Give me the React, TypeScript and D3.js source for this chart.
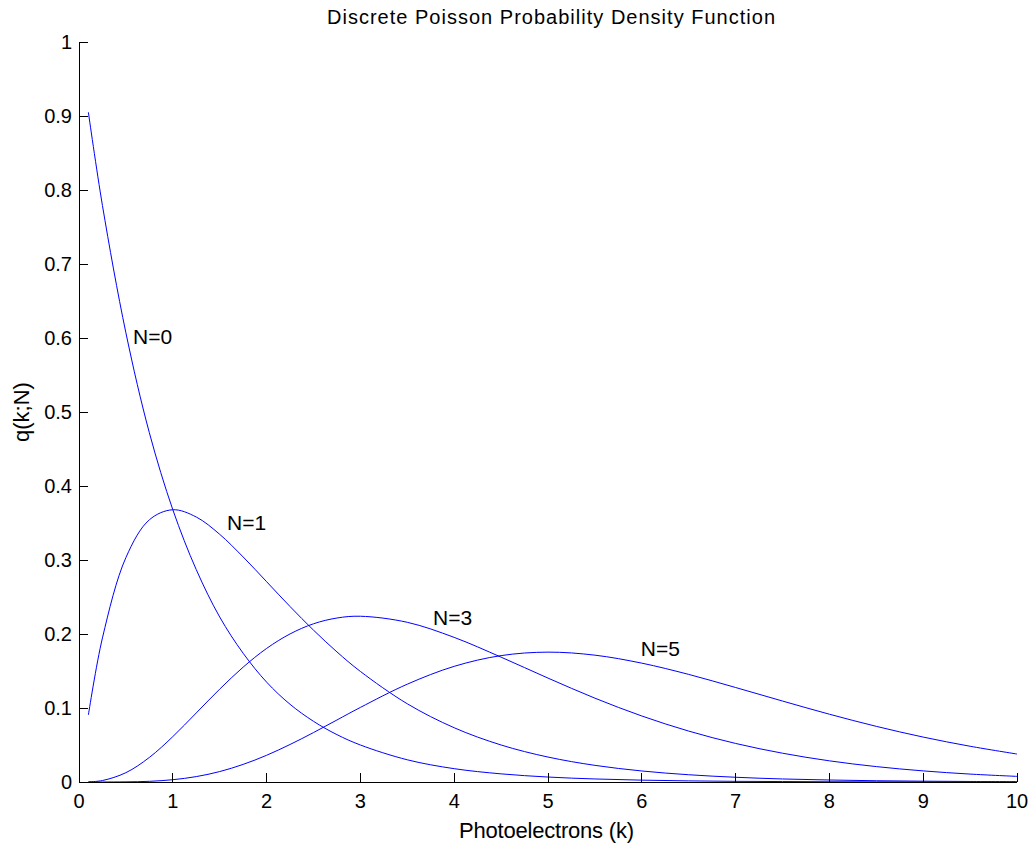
import React from "react";
import * as d3 from "d3";

const kValues = [0.1, 0.25, 0.5, 0.75, 1, 1.25, 1.5, 1.75, 2, 2.25, 2.5, 2.75, 3, 3.5, 4, 4.5, 5, 5.5, 6, 6.5, 7, 7.5, 8, 8.5, 9, 9.5, 10];
const seriesN0 = [0.905, 0.779, 0.607, 0.472, 0.368, 0.287, 0.223, 0.174, 0.135, 0.105, 0.082, 0.064, 0.050, 0.030, 0.018, 0.011, 0.0067, 0.0041, 0.0025, 0.0015, 0.0009, 0.0006, 0.0003, 0.0002, 0.0001, 0.0001, 0.0];
const seriesN1 = [0.0905, 0.1947, 0.3033, 0.3543, 0.3679, 0.3581, 0.3347, 0.3041, 0.2707, 0.2371, 0.2052, 0.1758, 0.1494, 0.1057, 0.0733, 0.0500, 0.0337, 0.0225, 0.0149, 0.0098, 0.0064, 0.0041, 0.0027, 0.0017, 0.0011, 0.0007, 0.0005];
const seriesN3 = [0.0002, 0.0020, 0.0126, 0.0332, 0.0613, 0.0933, 0.1255, 0.1552, 0.1805, 0.2001, 0.2138, 0.2216, 0.2240, 0.2158, 0.1954, 0.1687, 0.1404, 0.1133, 0.0892, 0.0688, 0.0521, 0.0389, 0.0286, 0.0208, 0.0150, 0.0107, 0.0076];
const seriesN5 = [0.0, 0.0, 0.0002, 0.0009, 0.0031, 0.0073, 0.0141, 0.0238, 0.0361, 0.0507, 0.0668, 0.0838, 0.1008, 0.1322, 0.1563, 0.1708, 0.1755, 0.1714, 0.1606, 0.1454, 0.1277, 0.1094, 0.0916, 0.0752, 0.0607, 0.0483, 0.0378];
const seriesList = [seriesN0, seriesN1, seriesN3, seriesN5];

const curveLabels = ["N=0", "N=1", "N=3", "N=5"];
const labelX = [0.576, 1.578, 3.774, 5.99];
const labelY = [0.592, 0.341, 0.212, 0.17];

const xTicks = [0, 1, 2, 3, 4, 5, 6, 7, 8, 9, 10];
const yTicks = [0, 0.1, 0.2, 0.3, 0.4, 0.5, 0.6, 0.7, 0.8, 0.9, 1];

const titleText = "Discrete Poisson Probability Density Function";
const xLabelText = "Photoelectrons (k)";
const yLabelText = "q(k;N)";

export default function App() {
  const W = 1034, H = 843;
  const left = 79, right = 1017, top = 42, bottom = 782;
  const x = d3.scaleLinear().domain([0, 10]).range([left, right]);
  const y = d3.scaleLinear().domain([0, 1]).range([bottom, top]);
  const line = d3.line<number>()
    .x((_, i) => x(kValues[i]))
    .y((d) => y(d))
    .curve(d3.curveCatmullRom.alpha(0.5));
  const font = "'Liberation Sans', Arial, sans-serif";
  const fs = 20;
  return (
    <svg width={W} height={H} style={{ position: "absolute", left: 0, top: 0, background: "#fff" }} fontFamily={font}>
      <rect x={0} y={0} width={W} height={H} fill="#fff" />
      {seriesList.map((s, i) => (
        <path key={i} d={line(s) || ""} fill="none" stroke="#0000ff" strokeWidth={1} />
      ))}
      <line x1={left} x2={left} y1={top} y2={bottom} stroke="#000" strokeWidth={1} shapeRendering="crispEdges" />
      <line x1={left} x2={right} y1={bottom} y2={bottom} stroke="#000" strokeWidth={1} shapeRendering="crispEdges" />
      {xTicks.map((t) => (
        <g key={"x" + t}>
          <line x1={x(t)} x2={x(t)} y1={bottom} y2={bottom - 9} stroke="#000" shapeRendering="crispEdges" />
          <text x={x(t)} y={bottom + 26} textAnchor="middle" fontSize={fs}>{t}</text>
        </g>
      ))}
      {yTicks.map((t) => (
        <g key={"y" + t}>
          <line x1={left} x2={left + 9} y1={y(t)} y2={y(t)} stroke="#000" shapeRendering="crispEdges" />
          <text x={left - 7} y={y(t) + 7} textAnchor="end" fontSize={fs}>{d3.format("~g")(t)}</text>
        </g>
      ))}
      {curveLabels.map((l, i) => (
        <text key={l} x={x(labelX[i])} y={y(labelY[i])} fontSize={21}>{l}</text>
      ))}
      <text x={327} y={24} fontSize={20} textLength={448} lengthAdjust="spacing">{titleText}</text>
      <text x={459} y={838} fontSize={22} textLength={175} lengthAdjust="spacing">{xLabelText}</text>
      <text transform={`translate(29,412) rotate(-90)`} textAnchor="middle" fontSize={22}>{yLabelText}</text>
    </svg>
  );
}
